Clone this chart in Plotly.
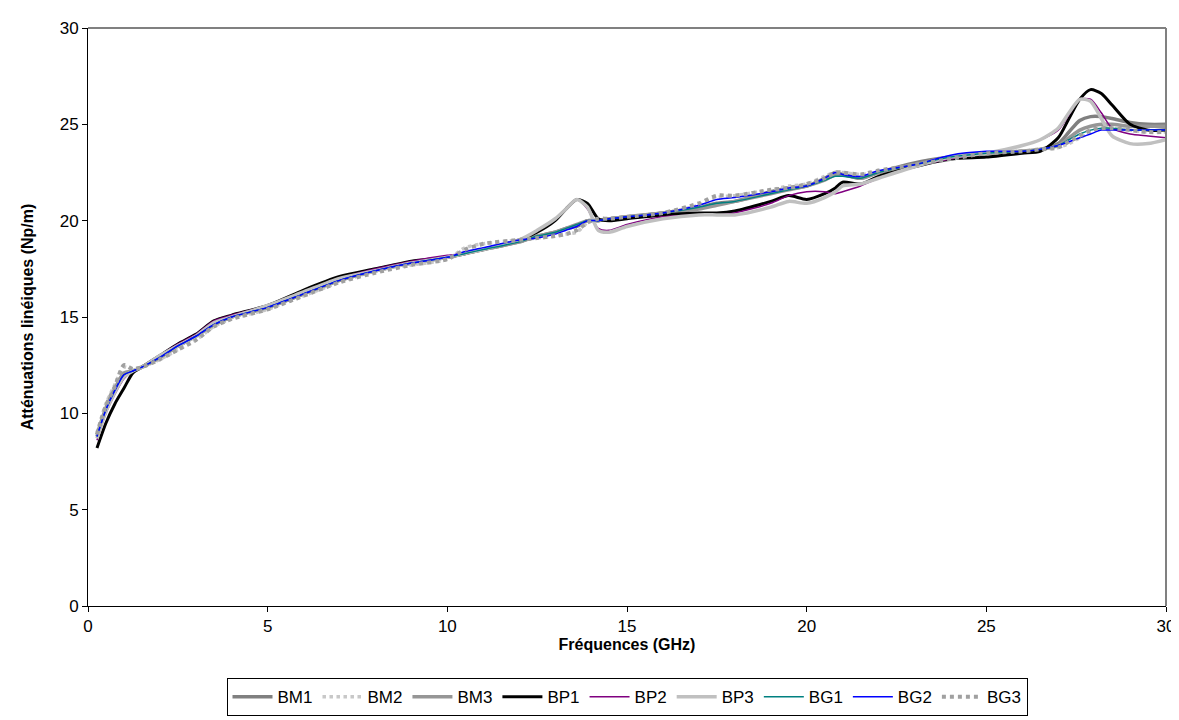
import plotly.graph_objects as go

freq = [0.25, 0.5, 0.75, 1.0, 1.25, 1.5, 2, 2.5, 3, 3.5, 4, 5, 6, 7, 8, 9, 10, 10.5,
        11, 12, 12.5, 13, 13.3, 13.6, 13.9, 14.2, 14.5, 15, 16, 17, 17.5, 18, 19, 19.5,
        20, 20.5, 20.8, 21, 21.5, 22, 23, 24, 25, 26, 26.5, 27, 27.3, 27.6, 27.9, 28.2,
        28.5, 29, 29.5, 30]

bm1 = [8.8, 10.2, 11.2, 12.0, 12.2, 12.4, 12.9, 13.5, 14.0, 14.6, 15.0, 15.5, 16.2, 16.9,
       17.4, 17.8, 18.1, 18.3, 18.5, 18.9, 19.2, 19.4, 19.6, 19.7, 20.0, 20.0, 20.1, 20.2,
       20.4, 20.7, 20.9, 21.0, 21.5, 21.7, 21.8, 22.2, 22.5, 22.4, 22.2, 22.5, 23.0, 23.3,
       23.5, 23.6, 23.7, 24.0, 24.6, 25.2, 25.4, 25.4, 25.3, 25.1, 25.0, 25.0]
bm2 = [9.0, 10.5, 11.5, 12.4, 12.3, 12.4, 12.8, 13.3, 13.8, 14.5, 14.9, 15.4, 16.1, 16.8,
       17.4, 17.7, 18.0, 18.6, 18.8, 19.0, 19.1, 19.2, 19.3, 19.4, 19.9, 20.1, 20.1, 20.2,
       20.4, 20.8, 21.2, 21.3, 21.6, 21.8, 21.9, 22.3, 22.5, 22.5, 22.4, 22.5, 22.9, 23.2,
       23.5, 23.6, 23.7, 23.8, 24.0, 24.3, 24.6, 24.8, 24.8, 24.7, 24.6, 24.6]
bm3 = [8.9, 10.3, 11.3, 12.1, 12.2, 12.4, 12.9, 13.5, 14.0, 14.6, 15.0, 15.5, 16.2, 16.9,
       17.4, 17.8, 18.1, 18.3, 18.5, 18.9, 19.2, 19.4, 19.6, 19.8, 20.0, 20.0, 20.1, 20.2,
       20.4, 20.6, 20.8, 21.0, 21.4, 21.6, 21.8, 22.1, 22.4, 22.4, 22.2, 22.5, 22.9, 23.3,
       23.5, 23.6, 23.7, 23.9, 24.3, 24.7, 24.9, 25.0, 25.0, 24.9, 24.9, 24.9]
bp1 = [8.2, 9.5, 10.5, 11.3, 12.1, 12.4, 13.0, 13.6, 14.1, 14.8, 15.1, 15.6, 16.4, 17.1,
       17.5, 17.9, 18.1, 18.3, 18.5, 19.0, 19.4, 20.0, 20.6, 21.1, 20.9, 20.1, 20.0, 20.1,
       20.3, 20.4, 20.4, 20.5, 21.0, 21.3, 21.1, 21.4, 21.7, 22.0, 21.9, 22.3, 22.8, 23.2,
       23.3, 23.5, 23.6, 24.3, 25.3, 26.3, 26.8, 26.6, 26.0, 25.0, 24.7, 24.7]
bp2 = [8.6, 10.0, 11.0, 11.8, 12.2, 12.4, 13.0, 13.6, 14.1, 14.8, 15.1, 15.6, 16.3, 17.0,
       17.5, 17.9, 18.2, 18.3, 18.5, 19.0, 19.5, 20.1, 20.6, 21.1, 20.6, 19.6, 19.5, 19.8,
       20.2, 20.3, 20.3, 20.4, 20.9, 21.3, 21.5, 21.5, 21.4, 21.5, 21.8, 22.2, 22.8, 23.2,
       23.5, 23.9, 24.2, 24.7, 25.5, 26.3, 26.3, 25.6, 24.8, 24.5, 24.4, 24.3]
bp3 = [8.7, 10.1, 11.1, 11.9, 12.2, 12.4, 13.0, 13.5, 14.0, 14.7, 15.0, 15.6, 16.3, 17.0,
       17.4, 17.8, 18.1, 18.3, 18.5, 19.0, 19.5, 20.1, 20.6, 21.1, 20.7, 19.5, 19.4, 19.7,
       20.1, 20.3, 20.3, 20.3, 20.7, 21.0, 20.9, 21.2, 21.5, 21.8, 21.9, 22.2, 22.8, 23.3,
       23.5, 23.9, 24.2, 24.8, 25.6, 26.3, 26.2, 25.3, 24.4, 24.0, 24.0, 24.2]
bg1 = [8.8, 10.2, 11.2, 12.0, 12.2, 12.4, 12.9, 13.5, 14.0, 14.6, 15.0, 15.5, 16.2, 16.9,
       17.4, 17.8, 18.1, 18.3, 18.5, 18.9, 19.2, 19.4, 19.6, 19.8, 20.0, 20.0, 20.1, 20.2,
       20.4, 20.7, 20.9, 21.0, 21.4, 21.6, 21.8, 22.1, 22.3, 22.3, 22.2, 22.5, 22.9, 23.3,
       23.5, 23.6, 23.7, 23.9, 24.2, 24.5, 24.7, 24.8, 24.8, 24.7, 24.7, 24.7]
bg2 = [8.8, 10.2, 11.2, 12.0, 12.2, 12.4, 12.9, 13.5, 14.0, 14.6, 15.0, 15.5, 16.2, 16.9,
       17.4, 17.8, 18.1, 18.4, 18.6, 19.0, 19.1, 19.3, 19.5, 19.7, 20.0, 20.0, 20.1, 20.2,
       20.4, 20.8, 21.1, 21.2, 21.5, 21.7, 21.8, 22.2, 22.5, 22.4, 22.3, 22.6, 22.9, 23.4,
       23.6, 23.6, 23.7, 23.9, 24.1, 24.3, 24.5, 24.7, 24.7, 24.7, 24.7, 24.7]
bg3 = [8.9, 10.4, 11.4, 12.5, 12.3, 12.4, 12.8, 13.3, 13.8, 14.5, 14.9, 15.4, 16.1, 16.8,
       17.3, 17.7, 18.0, 18.5, 18.8, 19.0, 19.1, 19.2, 19.3, 19.5, 19.9, 20.1, 20.1, 20.2,
       20.4, 20.9, 21.3, 21.3, 21.6, 21.7, 21.9, 22.2, 22.5, 22.5, 22.4, 22.6, 22.9, 23.2,
       23.5, 23.6, 23.7, 23.8, 24.1, 24.4, 24.7, 24.8, 24.8, 24.7, 24.6, 24.6]

series = [
    ('BM1', bm1, '#808080', 3.5, 'solid'),
    ('BM2', bm2, '#c8c8c8', 3.5, 'dot'),
    ('BM3', bm3, '#969696', 3.5, 'solid'),
    ('BP1', bp1, '#000000', 3, 'solid'),
    ('BP2', bp2, '#800080', 1.5, 'solid'),
    ('BP3', bp3, '#c0c0c0', 3.5, 'solid'),
    ('BG1', bg1, '#008080', 1.5, 'solid'),
    ('BG2', bg2, '#0000ff', 1.5, 'solid'),
    ('BG3', bg3, '#a0a0a0', 4, 'dot'),
]

font = 'Arial, Liberation Sans, sans-serif'

fig = go.Figure()
for name, vals, color, width, dash in series:
    fig.add_trace(go.Scatter(
        x=freq, y=vals, name=name, mode='lines',
        line=dict(color=color, width=width, dash=dash, shape='spline', smoothing=0.7)
    ))

fig.update_layout(
    width=1179, height=720,
    paper_bgcolor='white', plot_bgcolor='white',
    margin=dict(l=80, r=21, t=20, b=122),
    font=dict(family=font, size=17, color='black'),
    legend=dict(
        orientation='h', x=0.5, xanchor='center', y=-0.125, yanchor='top',
        bordercolor='black', borderwidth=1, font=dict(size=17),
        itemwidth=40, tracegroupgap=0
    ),
    shapes=[
        dict(type='line', xref='paper', yref='paper', x0=0, x1=1, y0=1, y1=1,
             line=dict(color='#808080', width=2)),
        dict(type='line', xref='paper', yref='paper', x0=1, x1=1, y0=0, y1=1,
             line=dict(color='#808080', width=2)),
    ],
)
fig.update_xaxes(
    range=[0, 30], tickvals=[0, 5, 10, 15, 20, 25, 30],
    showgrid=False, zeroline=False, showline=True, linecolor='black', linewidth=1,
    ticks='outside', ticklen=5, tickcolor='black',
    title=dict(text='<b>Fréquences (GHz)</b>', font=dict(size=16), standoff=3)
)
fig.update_yaxes(
    range=[0, 30], tickvals=[0, 5, 10, 15, 20, 25, 30],
    showgrid=False, zeroline=False, showline=True, linecolor='black', linewidth=1,
    ticks='outside', ticklen=5, tickcolor='black',
    title=dict(text='<b>Atténuations linéiques (Np/m)</b>', font=dict(size=16), standoff=22)
)

fig.write_html('out.html')
